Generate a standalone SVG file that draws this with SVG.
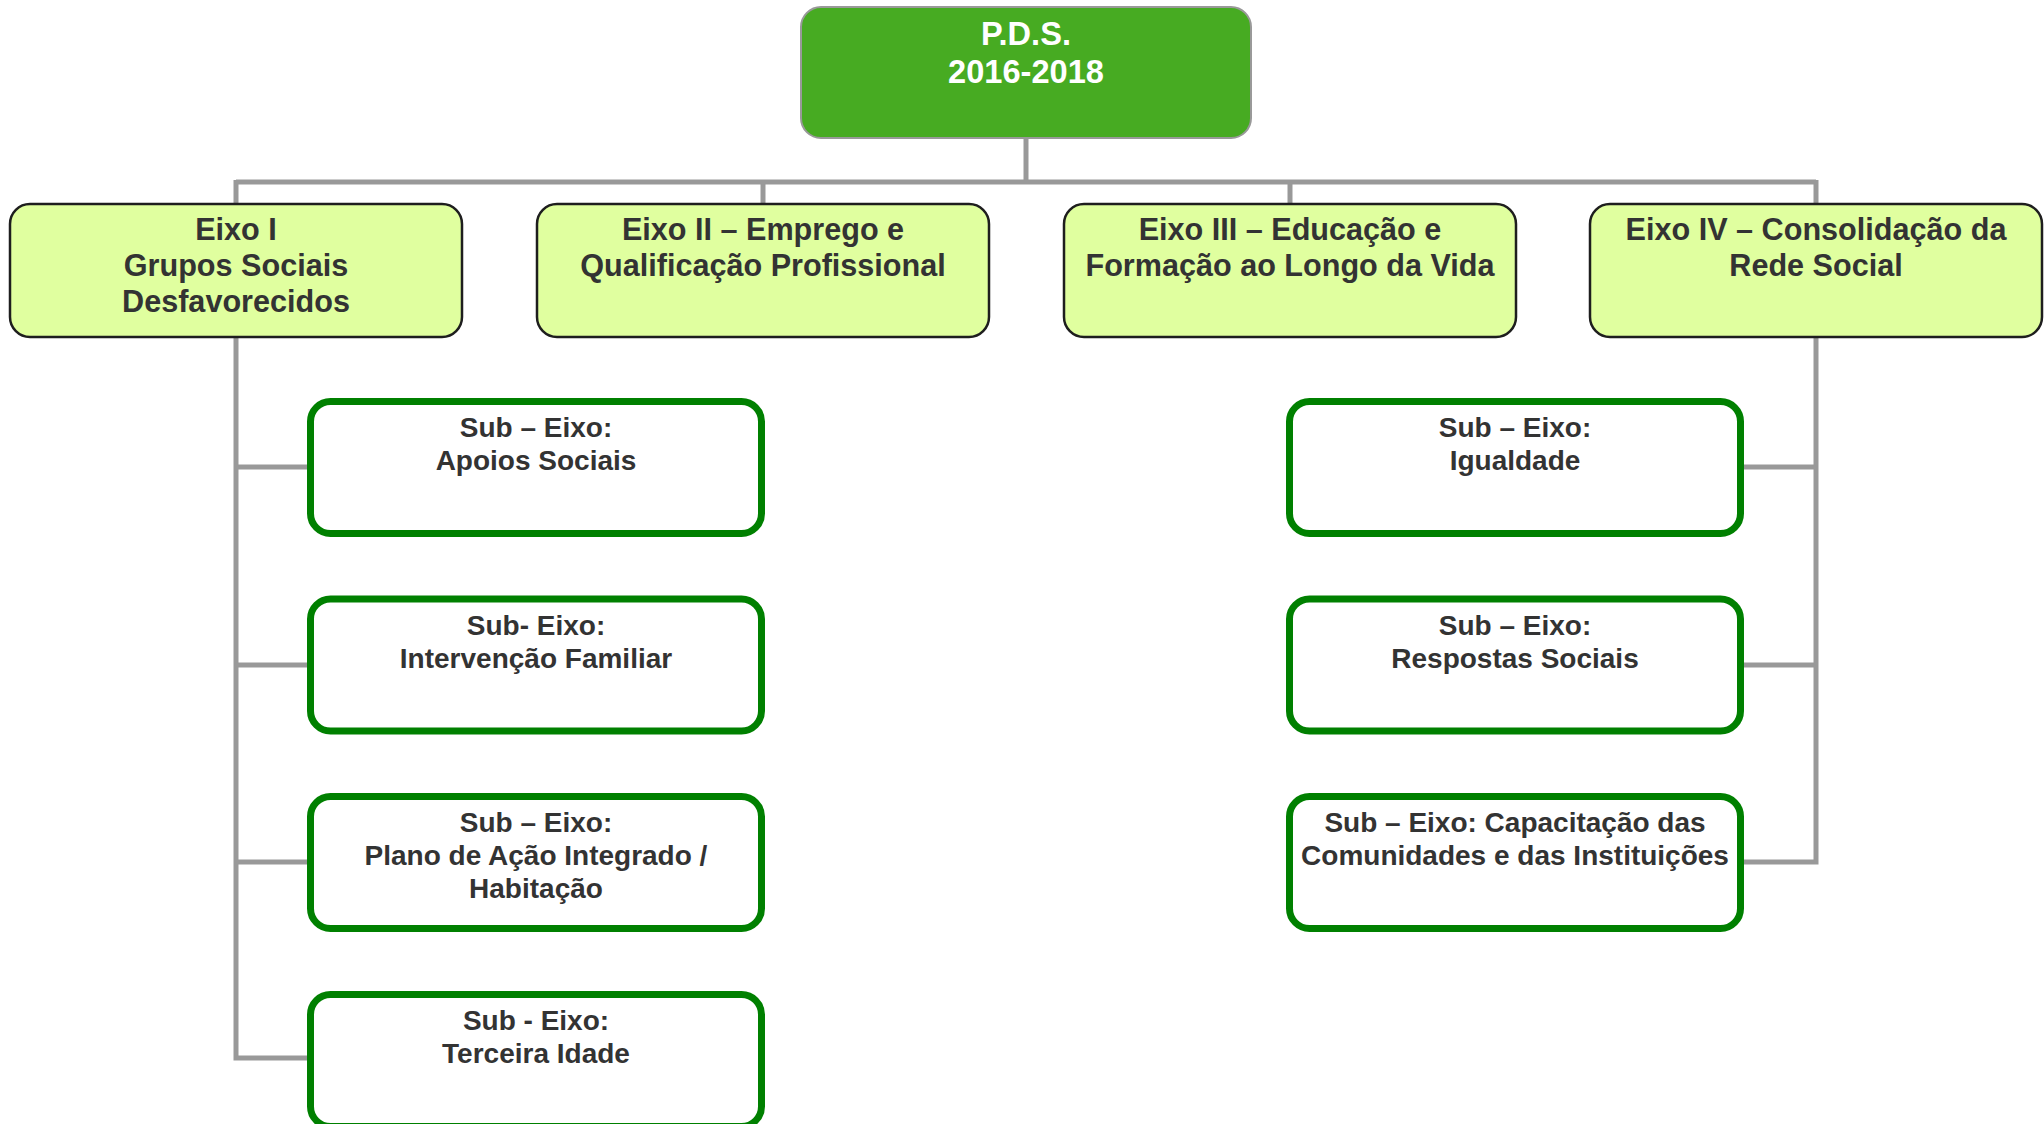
<svg xmlns="http://www.w3.org/2000/svg" width="2044" height="1124" viewBox="0 0 2044 1124">
<style>
text{font-family:"Liberation Sans",Arial,sans-serif;font-weight:bold;text-anchor:middle}
.top{fill:#47AB22;stroke:#999;stroke-width:2}
.top-t{fill:#fff;font-size:32.6px}
.eixo{fill:#E0FF9F;stroke:#1e1e1e;stroke-width:2.5}
.eixo-t{fill:#333;font-size:30.6px}
.sub{fill:#fff;stroke:#008000;stroke-width:7}
.sub-t{fill:#333;font-size:28px}
.conn{fill:none;stroke:#999;stroke-width:5}
</style>
<rect width="2044" height="1124" fill="#fff"/>
<g id="connectors">
<path class="conn" d="M1026 138V182M236 182H1816M236 180V205M763 180V205M1290 180V205M1816 180V205"/>
<path class="conn" d="M236 336V1058H308M236 467H308M236 665H308M236 862H308"/>
<path class="conn" d="M1816 336V862H1743M1816 467H1743M1816 665H1743"/>
</g>
<g id="pds">
<rect class="top" x="801" y="7" width="450" height="131" rx="20"/>
<text class="top-t" x="1026" y="45">P.D.S.</text>
<text class="top-t" x="1026" y="83">2016-2018</text>
</g>
<g id="eixo1">
<rect class="eixo" x="10" y="204" width="452" height="133" rx="20"/>
<text class="eixo-t" x="236" y="240">Eixo I</text>
<text class="eixo-t" x="236" y="276">Grupos Sociais</text>
<text class="eixo-t" x="236" y="312">Desfavorecidos</text>
</g>
<g id="eixo2">
<rect class="eixo" x="537" y="204" width="452" height="133" rx="20"/>
<text class="eixo-t" x="763" y="240">Eixo II – Emprego e</text>
<text class="eixo-t" x="763" y="276">Qualificação Profissional</text>
</g>
<g id="eixo3">
<rect class="eixo" x="1064" y="204" width="452" height="133" rx="20"/>
<text class="eixo-t" x="1290" y="240">Eixo III – Educação e</text>
<text class="eixo-t" x="1290" y="276">Formação ao Longo da Vida</text>
</g>
<g id="eixo4">
<rect class="eixo" x="1590" y="204" width="452" height="133" rx="20"/>
<text class="eixo-t" x="1816" y="240">Eixo IV – Consolidação da</text>
<text class="eixo-t" x="1816" y="276">Rede Social</text>
</g>
<g id="sub-apoios">
<rect class="sub" x="310.5" y="401.5" width="451" height="132" rx="20"/>
<text class="sub-t" x="536" y="437">Sub – Eixo:</text>
<text class="sub-t" x="536" y="470">Apoios Sociais</text>
</g>
<g id="sub-intervencao">
<rect class="sub" x="310.5" y="599" width="451" height="132" rx="20"/>
<text class="sub-t" x="536" y="635">Sub- Eixo:</text>
<text class="sub-t" x="536" y="668">Intervenção Familiar</text>
</g>
<g id="sub-plano">
<rect class="sub" x="310.5" y="796.5" width="451" height="132" rx="20"/>
<text class="sub-t" x="536" y="832">Sub – Eixo:</text>
<text class="sub-t" x="536" y="865">Plano de Ação Integrado /</text>
<text class="sub-t" x="536" y="898">Habitação</text>
</g>
<g id="sub-terceira">
<rect class="sub" x="310.5" y="994.5" width="451" height="132" rx="20"/>
<text class="sub-t" x="536" y="1030">Sub - Eixo:</text>
<text class="sub-t" x="536" y="1063">Terceira Idade</text>
</g>
<g id="sub-igualdade">
<rect class="sub" x="1289.5" y="401.5" width="451" height="132" rx="20"/>
<text class="sub-t" x="1515" y="437">Sub – Eixo:</text>
<text class="sub-t" x="1515" y="470">Igualdade</text>
</g>
<g id="sub-respostas">
<rect class="sub" x="1289.5" y="599" width="451" height="132" rx="20"/>
<text class="sub-t" x="1515" y="635">Sub – Eixo:</text>
<text class="sub-t" x="1515" y="668">Respostas Sociais</text>
</g>
<g id="sub-capacitacao">
<rect class="sub" x="1289.5" y="796.5" width="451" height="132" rx="20"/>
<text class="sub-t" x="1515" y="832">Sub – Eixo: Capacitação das</text>
<text class="sub-t" x="1515" y="865">Comunidades e das Instituições</text>
</g>
</svg>
